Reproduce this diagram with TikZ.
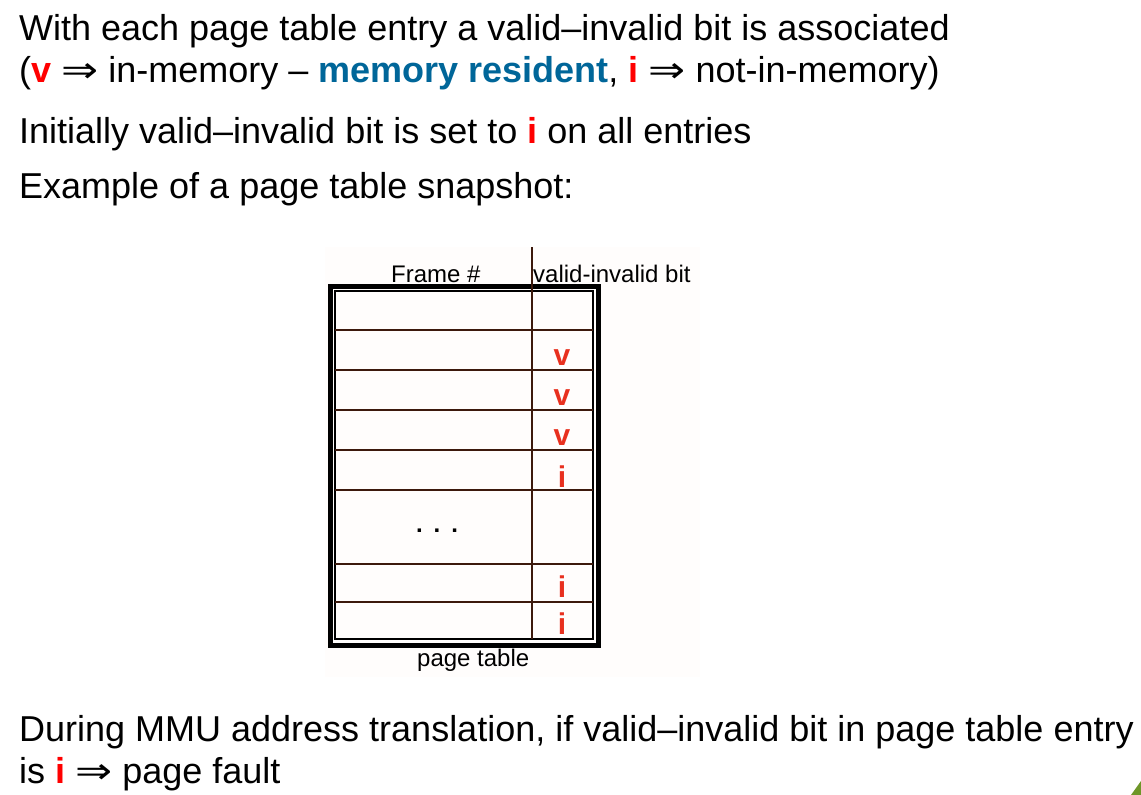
\documentclass[tikz,border=0pt]{standalone}
\usepackage{graphicx}
\usepackage{fontspec}
\setmainfont{Liberation Sans}
\newfontfamily\arrowfont{DejaVu Sans}
\newcommand{\impl}{{\arrowfont\scalebox{1.23}[1]{⇒}}}
\definecolor{resblue}{RGB}{0,102,153}
\definecolor{vred}{RGB}{255,0,0}
\definecolor{tred}{RGB}{232,48,30}
\definecolor{rowline}{RGB}{60,25,12}
\definecolor{imgbg}{RGB}{255,253,252}
\definecolor{cornergreen}{RGB}{110,150,40}
\begin{document}
\begin{tikzpicture}[x=1pt,y=-1pt,
  body/.style={anchor=base west,inner sep=0pt,font=\fontsize{36}{43}\selectfont},
  small/.style={anchor=base west,inner sep=0pt,font=\fontsize{24}{29}\selectfont},
  bitmark/.style={anchor=base,inner sep=0pt,text=tred,font=\fontsize{30}{36}\selectfont\bfseries},
  rowrule/.style={draw=rowline,line width=2pt},
  outerframe/.style={draw=black,line width=5pt},
  innerframe/.style={draw=black,line width=2pt}
]
\useasboundingbox (0,0) rectangle (1141,795);
\fill[white] (0,0) rectangle (1141,795);
% slide texts
\node[body] (l1) at (19,40) {With each page table entry a valid–invalid bit is associated};
\node[body] (l2) at (19,82) {(\textcolor{vred}{\textbf{v}} \impl{} in-memory – \textcolor{resblue}{\textbf{memory resident}}, \textcolor{vred}{\textbf{i}} \impl{} not-in-memory)};
\node[body] (l3) at (19,143) {Initially valid–invalid bit is set to \textcolor{vred}{\textbf{i}} on all entries};
\node[body] (l4) at (19,198) {Example of a page table snapshot:};
\node[body] (l5) at (19,741) {During MMU address translation, if valid–invalid bit in page table entry};
\node[body] (l6) at (19,783) {is \textcolor{vred}{\textbf{i}} \impl{} page fault};
% page table picture
\fill[imgbg] (325,247) rectangle (700,677);
\draw[outerframe] (330.5,286) rectangle (598.5,645);
\draw[innerframe] (335,291) rectangle (593,639);
\foreach \yy in {330,370,410,450,490,564,602}
  \draw[rowrule] (335,\yy) -- (593,\yy);
\draw[rowrule] (532,247) -- (532,639);
\node[small] (hframe) at (391,282) {Frame \#};
\node[small] (hbit) at (533,282) {valid-invalid bit};
\node[small] (caption) at (417,666) {page table};
\node[anchor=base,inner sep=0pt,font=\fontsize{24}{29}\selectfont\bfseries] (dots) at (437,532) {.\hspace{11pt}.\hspace{11pt}.};
\node[bitmark] (b1) at (562,365) {v};
\node[bitmark] (b2) at (562,405) {v};
\node[bitmark] (b3) at (562,445) {v};
\node[bitmark] (b4) at (562,487) {i};
\node[bitmark] (b5) at (562,597) {i};
\node[bitmark] (b6) at (562,634) {i};
% slide corner decoration
\fill[cornergreen] (1141,781) -- (1141,795) -- (1131,795) -- cycle;
\end{tikzpicture}
\end{document}
